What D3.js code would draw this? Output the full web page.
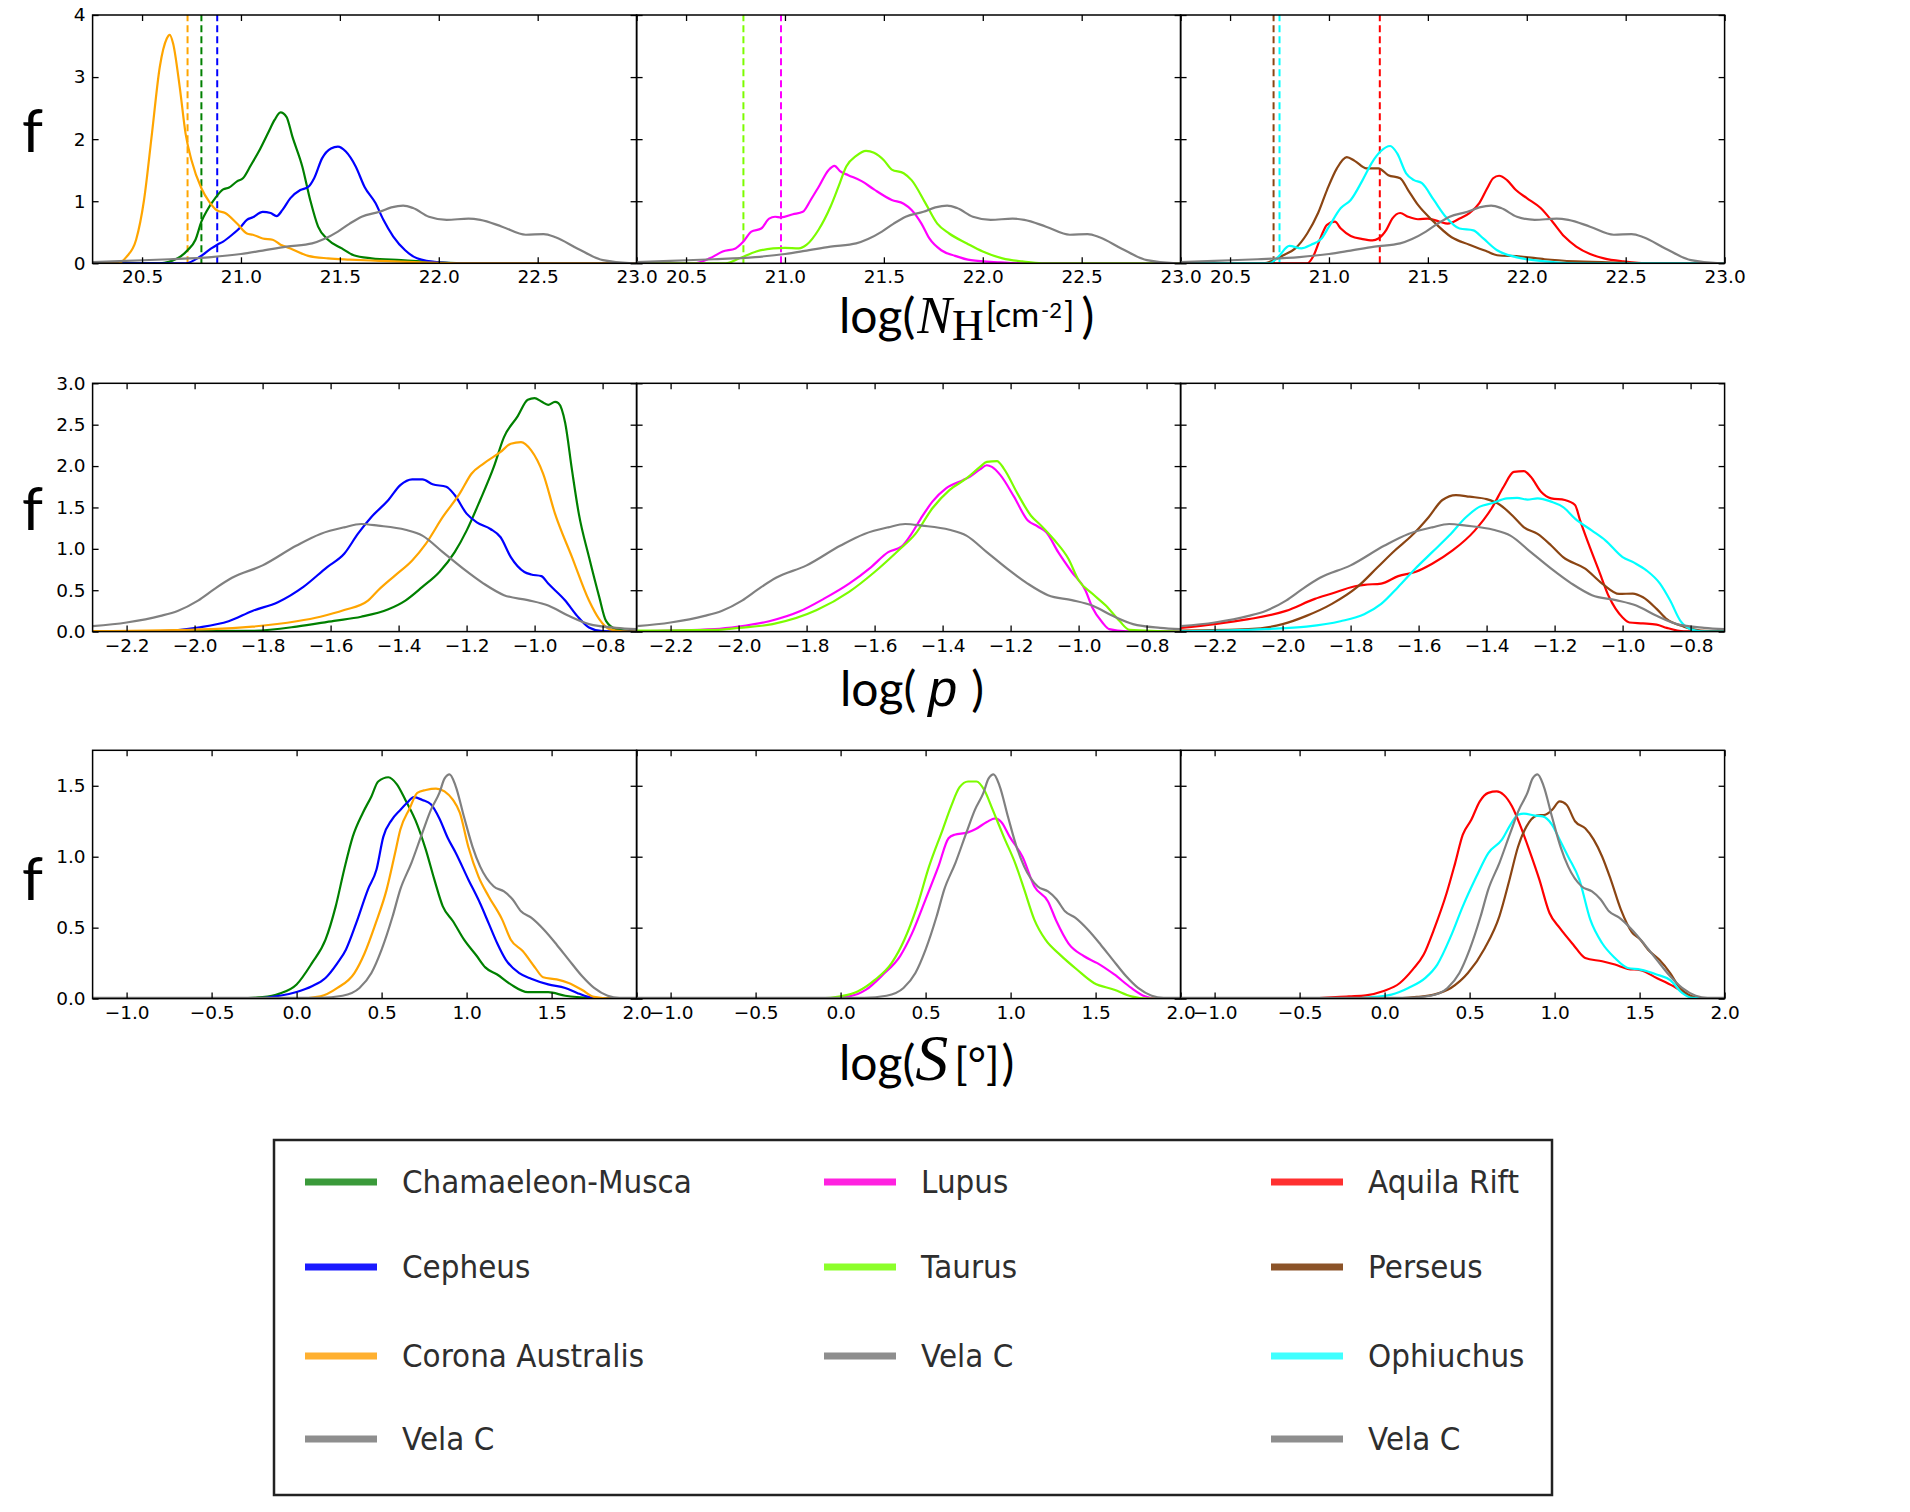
<!DOCTYPE html>
<html>
<head>
<meta charset="utf-8">
<script src="https://cdn.jsdelivr.net/npm/d3@7"></script>
<style>
  body { margin: 0; background: white; }
</style>
</head>
<body>
<div id="vis"></div>
<script>
const FRAME_WIDTH = 1910;
const FRAME_HEIGHT = 1512;

// panel grid: 3 rows x 3 columns sharing edges
const PANEL_W = 544;
const PANEL_H = 248.3;
const COL_X = [92.6, 636.6, 1180.6];
const ROW_Y = [15, 383.3, 750.3];

// ---- axis ticks ----
const nhTicks = [20.5, 21.0, 21.5, 22.0, 22.5, 23.0];
const pTicks = [-2.2, -2.0, -1.8, -1.6, -1.4, -1.2, -1.0, -0.8];
const sTicks = [-1.0, -0.5, 0.0, 0.5, 1.0, 1.5, 2.0];
const fTicksNH = [0, 1, 2, 3, 4];
const fTicksP = [0, 0.5, 1.0, 1.5, 2.0, 2.5, 3.0];
const fTicksS = [0, 0.5, 1.0, 1.5];

// ---- log(N_H) distributions [logNH, f] ----
const chamNH = [[20.25,0],[20.59,0],[20.68,0.08],[20.73,0.21],[20.77,0.38],[20.80,0.67],[20.83,0.86],[20.87,1.05],[20.91,1.19],[20.94,1.22],[20.98,1.32],[21.01,1.37],[21.05,1.58],[21.09,1.80],[21.14,2.12],[21.17,2.31],[21.20,2.43],[21.23,2.36],[21.26,2.04],[21.31,1.56],[21.35,1.02],[21.39,0.59],[21.44,0.38],[21.51,0.24],[21.57,0.13],[21.66,0.08],[21.81,0.05],[21.91,0.03],[22.12,0],[23.0,0]];
const cephNH = [[20.25,0],[20.72,0],[20.795,0.11],[20.85,0.24],[20.88,0.30],[20.91,0.35],[20.955,0.46],[21.0,0.59],[21.03,0.70],[21.06,0.74],[21.11,0.83],[21.15,0.81],[21.18,0.76],[21.21,0.86],[21.25,1.05],[21.30,1.18],[21.34,1.23],[21.37,1.37],[21.41,1.69],[21.455,1.85],[21.49,1.88],[21.53,1.80],[21.58,1.56],[21.625,1.23],[21.68,0.97],[21.72,0.70],[21.77,0.43],[21.83,0.21],[21.89,0.08],[22.0,0.015],[22.12,0],[23.0,0]];
const craNH = [[20.25,0],[20.38,0],[20.42,0.10],[20.47,0.38],[20.51,1.02],[20.55,2.09],[20.59,3.17],[20.625,3.62],[20.64,3.68],[20.657,3.54],[20.69,2.85],[20.72,2.09],[20.75,1.66],[20.80,1.21],[20.84,0.99],[20.88,0.85],[20.92,0.81],[20.98,0.64],[21.03,0.48],[21.06,0.46],[21.11,0.40],[21.16,0.38],[21.20,0.30],[21.25,0.24],[21.34,0.12],[21.44,0.08],[21.55,0.06],[21.70,0.04],[21.91,0.015],[22.12,0],[23.0,0]];
const velaNH = [[20.25,0.02],[20.42,0.04],[20.64,0.065],[20.85,0.10],[21.0,0.15],[21.1,0.20],[21.23,0.27],[21.36,0.32],[21.42,0.39],[21.49,0.51],[21.55,0.64],[21.61,0.75],[21.70,0.83],[21.76,0.90],[21.82,0.93],[21.87,0.89],[21.95,0.75],[22.04,0.70],[22.15,0.72],[22.21,0.70],[22.32,0.59],[22.44,0.46],[22.53,0.47],[22.59,0.42],[22.70,0.24],[22.83,0.05],[22.98,0],[23.0,0]];
const lupusNH = [[20.25,0],[20.54,0],[20.62,0.08],[20.685,0.19],[20.75,0.24],[20.79,0.35],[20.83,0.51],[20.88,0.56],[20.92,0.72],[20.95,0.75],[20.98,0.74],[21.04,0.79],[21.09,0.83],[21.13,1.02],[21.17,1.23],[21.22,1.50],[21.25,1.57],[21.28,1.48],[21.32,1.42],[21.39,1.32],[21.45,1.19],[21.54,1.02],[21.60,0.96],[21.64,0.86],[21.69,0.64],[21.73,0.40],[21.79,0.21],[21.86,0.12],[21.94,0.05],[22.09,0.015],[22.2,0],[23.0,0]];
const taurusNH = [[20.25,0],[20.70,0],[20.77,0.08],[20.855,0.19],[20.94,0.24],[21.0,0.25],[21.07,0.24],[21.11,0.30],[21.17,0.54],[21.23,0.91],[21.27,1.23],[21.31,1.56],[21.36,1.73],[21.41,1.81],[21.45,1.78],[21.50,1.66],[21.54,1.51],[21.60,1.45],[21.64,1.34],[21.71,0.97],[21.77,0.64],[21.83,0.48],[21.92,0.32],[22.0,0.19],[22.1,0.08],[22.2,0.03],[22.3,0],[23.0,0]];
const aquilaNH = [[20.25,0],[20.89,0],[20.92,0.11],[20.96,0.43],[20.99,0.62],[21.03,0.67],[21.06,0.56],[21.11,0.44],[21.17,0.39],[21.22,0.37],[21.25,0.40],[21.29,0.54],[21.32,0.72],[21.36,0.81],[21.40,0.75],[21.45,0.71],[21.50,0.72],[21.56,0.67],[21.60,0.64],[21.66,0.72],[21.71,0.81],[21.76,0.97],[21.80,1.21],[21.83,1.37],[21.86,1.41],[21.90,1.34],[21.945,1.18],[22.0,1.05],[22.07,0.89],[22.13,0.67],[22.19,0.43],[22.25,0.27],[22.32,0.15],[22.39,0.08],[22.49,0.03],[22.6,0],[23.0,0]];
const perseusNH = [[20.25,0],[20.67,0],[20.72,0.05],[20.77,0.13],[20.83,0.24],[20.89,0.48],[20.945,0.81],[20.99,1.18],[21.04,1.53],[21.09,1.71],[21.13,1.65],[21.19,1.53],[21.25,1.53],[21.30,1.42],[21.36,1.37],[21.40,1.18],[21.45,0.94],[21.52,0.70],[21.62,0.42],[21.71,0.30],[21.80,0.19],[21.85,0.13],[21.97,0.11],[22.09,0.065],[22.25,0.03],[22.49,0.01],[22.72,0],[23.0,0]];
const ophNH = [[20.25,0],[20.70,0],[20.745,0.11],[20.80,0.28],[20.86,0.24],[20.91,0.30],[20.96,0.39],[21.0,0.59],[21.06,0.89],[21.11,1.02],[21.17,1.34],[21.215,1.61],[21.26,1.80],[21.31,1.89],[21.345,1.77],[21.39,1.45],[21.43,1.34],[21.47,1.29],[21.53,1.02],[21.59,0.75],[21.66,0.56],[21.73,0.53],[21.78,0.40],[21.85,0.21],[21.945,0.10],[22.09,0.03],[22.25,0],[23.0,0]];

// dashed vertical markers in the log(N_H) panels
const chamCut = 20.80, cephCut = 20.88, craCut = 20.73;
const lupusCut = 20.98, taurusCut = 20.79;
const aquilaCut = 21.257, perseusCut = 20.72, ophCut = 20.75;

// ---- log(p) distributions ----
const chamP = [[-2.3,0],[-1.83,0.01],[-1.70,0.06],[-1.59,0.13],[-1.51,0.18],[-1.43,0.27],[-1.38,0.375],[-1.33,0.54],[-1.28,0.72],[-1.235,0.96],[-1.20,1.22],[-1.16,1.59],[-1.12,1.99],[-1.09,2.35],[-1.05,2.60],[-1.02,2.80],[-1.0,2.82],[-0.98,2.78],[-0.96,2.74],[-0.94,2.775],[-0.93,2.76],[-0.91,2.52],[-0.89,1.95],[-0.87,1.425],[-0.84,0.90],[-0.81,0.42],[-0.79,0.13],[-0.76,0.03],[-0.7,0]];
const cephP = [[-2.3,0],[-2.08,0.01],[-1.99,0.05],[-1.90,0.125],[-1.83,0.25],[-1.755,0.355],[-1.68,0.54],[-1.61,0.78],[-1.56,0.94],[-1.52,1.18],[-1.48,1.385],[-1.43,1.59],[-1.395,1.77],[-1.36,1.84],[-1.33,1.84],[-1.30,1.78],[-1.26,1.75],[-1.235,1.65],[-1.20,1.425],[-1.17,1.32],[-1.13,1.24],[-1.10,1.14],[-1.07,0.90],[-1.03,0.72],[-1.01,0.69],[-0.98,0.67],[-0.96,0.58],[-0.91,0.375],[-0.875,0.19],[-0.84,0.05],[-0.80,0.005],[-0.7,0]];
const craP = [[-2.3,0.005],[-1.95,0.03],[-1.83,0.06],[-1.70,0.125],[-1.63,0.18],[-1.56,0.26],[-1.49,0.375],[-1.46,0.50],[-1.41,0.68],[-1.36,0.86],[-1.32,1.06],[-1.27,1.385],[-1.22,1.67],[-1.185,1.91],[-1.15,2.03],[-1.10,2.17],[-1.07,2.27],[-1.04,2.29],[-1.01,2.19],[-0.975,1.91],[-0.94,1.425],[-0.89,0.90],[-0.84,0.375],[-0.81,0.15],[-0.78,0.03],[-0.74,0.004],[-0.7,0]];
const velaP = [[-2.3,0.065],[-2.2,0.11],[-2.1,0.19],[-2.05,0.25],[-1.99,0.375],[-1.94,0.52],[-1.89,0.65],[-1.80,0.80],[-1.70,1.04],[-1.63,1.18],[-1.56,1.26],[-1.51,1.30],[-1.46,1.28],[-1.38,1.23],[-1.33,1.16],[-1.27,0.96],[-1.21,0.76],[-1.15,0.58],[-1.09,0.44],[-1.02,0.38],[-0.96,0.315],[-0.90,0.19],[-0.84,0.09],[-0.76,0.045],[-0.7,0.03]];
const lupusP = [[-2.3,0.004],[-2.07,0.03],[-2.0,0.06],[-1.91,0.125],[-1.82,0.245],[-1.75,0.395],[-1.675,0.58],[-1.61,0.78],[-1.56,0.96],[-1.52,1.03],[-1.495,1.16],[-1.465,1.36],[-1.43,1.57],[-1.39,1.73],[-1.34,1.83],[-1.32,1.87],[-1.29,1.96],[-1.27,2.01],[-1.255,1.99],[-1.23,1.89],[-1.19,1.63],[-1.15,1.345],[-1.12,1.27],[-1.095,1.20],[-1.06,0.96],[-1.02,0.72],[-0.98,0.50],[-0.96,0.295],[-0.93,0.11],[-0.91,0.03],[-0.86,0.004],[-0.7,0]];
const taurusP = [[-2.3,0.012],[-2.07,0.02],[-2.0,0.045],[-1.9,0.09],[-1.77,0.26],[-1.675,0.48],[-1.60,0.72],[-1.53,0.98],[-1.48,1.18],[-1.43,1.49],[-1.38,1.71],[-1.33,1.85],[-1.29,1.99],[-1.27,2.05],[-1.24,2.06],[-1.22,1.97],[-1.18,1.67],[-1.14,1.40],[-1.11,1.28],[-1.07,1.10],[-1.03,0.88],[-1.0,0.62],[-0.96,0.46],[-0.92,0.315],[-0.88,0.13],[-0.85,0.02],[-0.7,0]];
const aquilaP = [[-2.3,0.045],[-2.2,0.09],[-2.1,0.15],[-1.99,0.25],[-1.905,0.395],[-1.855,0.46],[-1.79,0.545],[-1.76,0.565],[-1.71,0.58],[-1.66,0.67],[-1.61,0.72],[-1.56,0.82],[-1.50,0.98],[-1.435,1.22],[-1.385,1.49],[-1.35,1.75],[-1.32,1.93],[-1.29,1.94],[-1.27,1.87],[-1.24,1.69],[-1.21,1.61],[-1.17,1.59],[-1.14,1.53],[-1.125,1.345],[-1.10,1.06],[-1.07,0.74],[-1.04,0.42],[-1.0,0.17],[-0.98,0.11],[-0.94,0.10],[-0.90,0.085],[-0.87,0.045],[-0.82,0.004],[-0.7,0]];
const perseusP = [[-2.3,0.012],[-2.1,0.03],[-2.0,0.09],[-1.93,0.19],[-1.855,0.335],[-1.78,0.54],[-1.72,0.78],[-1.67,0.98],[-1.62,1.16],[-1.57,1.385],[-1.53,1.59],[-1.49,1.65],[-1.45,1.63],[-1.40,1.60],[-1.36,1.53],[-1.32,1.385],[-1.29,1.26],[-1.25,1.18],[-1.21,1.04],[-1.175,0.90],[-1.11,0.76],[-1.06,0.58],[-1.01,0.455],[-0.97,0.46],[-0.94,0.415],[-0.90,0.275],[-0.87,0.15],[-0.82,0.06],[-0.77,0.012],[-0.7,0.005]];
const ophP = [[-2.3,0.004],[-2.05,0.03],[-1.93,0.06],[-1.83,0.125],[-1.76,0.21],[-1.71,0.335],[-1.66,0.54],[-1.61,0.76],[-1.56,0.96],[-1.51,1.16],[-1.46,1.385],[-1.42,1.51],[-1.385,1.55],[-1.34,1.61],[-1.31,1.615],[-1.28,1.595],[-1.25,1.61],[-1.21,1.57],[-1.175,1.505],[-1.14,1.365],[-1.09,1.22],[-1.05,1.10],[-1.0,0.90],[-0.965,0.83],[-0.93,0.74],[-0.89,0.58],[-0.86,0.375],[-0.83,0.13],[-0.80,0.03],[-0.77,0.004],[-0.7,0]];

// ---- log(S) distributions ----
const chamS = [[-1.2,0],[-0.38,0],[-0.2,0.01],[-0.10,0.035],[0.0,0.10],[0.09,0.25],[0.17,0.415],[0.23,0.65],[0.28,0.91],[0.33,1.14],[0.39,1.31],[0.44,1.425],[0.48,1.53],[0.54,1.56],[0.59,1.51],[0.64,1.40],[0.71,1.225],[0.76,1.05],[0.81,0.84],[0.86,0.65],[0.92,0.545],[0.985,0.415],[1.06,0.30],[1.11,0.22],[1.18,0.17],[1.26,0.10],[1.36,0.045],[1.48,0.045],[1.58,0.02],[1.73,0.005],[2.0,0]];
const cephS = [[-1.2,0],[-0.25,0.002],[-0.10,0.02],[0.0,0.047],[0.09,0.087],[0.17,0.145],[0.24,0.25],[0.29,0.345],[0.35,0.53],[0.42,0.77],[0.47,0.91],[0.51,1.14],[0.56,1.26],[0.61,1.33],[0.65,1.38],[0.69,1.42],[0.74,1.40],[0.79,1.37],[0.84,1.27],[0.89,1.13],[0.935,1.03],[1.01,0.84],[1.08,0.67],[1.13,0.53],[1.18,0.39],[1.23,0.275],[1.31,0.18],[1.38,0.14],[1.48,0.10],[1.58,0.075],[1.65,0.04],[1.715,0.012],[1.78,0],[2.0,0]];
const craS = [[-1.2,0],[0.0,0],[0.14,0.016],[0.24,0.075],[0.34,0.18],[0.40,0.32],[0.465,0.53],[0.53,0.77],[0.58,1.03],[0.61,1.19],[0.665,1.34],[0.71,1.45],[0.76,1.47],[0.82,1.48],[0.87,1.46],[0.92,1.40],[0.96,1.31],[1.01,1.07],[1.07,0.86],[1.13,0.72],[1.21,0.555],[1.26,0.415],[1.33,0.335],[1.405,0.215],[1.45,0.15],[1.53,0.135],[1.60,0.11],[1.68,0.06],[1.75,0.012],[1.85,0],[2.0,0]];
const velaS = [[-1.2,0.005],[0.14,0.005],[0.27,0.02],[0.37,0.075],[0.44,0.18],[0.50,0.345],[0.565,0.58],[0.61,0.77],[0.675,0.955],[0.74,1.17],[0.79,1.33],[0.84,1.45],[0.87,1.55],[0.90,1.58],[0.935,1.50],[0.985,1.28],[1.035,1.07],[1.08,0.93],[1.16,0.79],[1.22,0.755],[1.27,0.70],[1.32,0.615],[1.38,0.57],[1.455,0.485],[1.53,0.38],[1.60,0.275],[1.68,0.157],[1.75,0.075],[1.83,0.02],[1.90,0.005],[2.0,0.005]];
const lupusS = [[-1.2,0],[-0.12,0],[0.05,0.016],[0.15,0.063],[0.25,0.17],[0.35,0.30],[0.42,0.46],[0.50,0.70],[0.575,0.93],[0.635,1.13],[0.67,1.155],[0.745,1.17],[0.795,1.195],[0.86,1.245],[0.91,1.27],[0.945,1.245],[0.995,1.14],[1.07,1.0],[1.14,0.79],[1.22,0.685],[1.27,0.545],[1.34,0.39],[1.43,0.30],[1.51,0.25],[1.61,0.17],[1.71,0.075],[1.79,0.016],[1.86,0],[2.0,0]];
const taurusS = [[-1.2,0],[-0.12,0.002],[0.0,0.016],[0.10,0.05],[0.20,0.13],[0.30,0.25],[0.375,0.415],[0.45,0.65],[0.52,0.93],[0.60,1.19],[0.65,1.355],[0.70,1.49],[0.75,1.53],[0.80,1.53],[0.845,1.47],[0.895,1.33],[0.96,1.14],[1.03,0.945],[1.08,0.77],[1.14,0.555],[1.205,0.415],[1.29,0.31],[1.39,0.205],[1.49,0.11],[1.61,0.063],[1.71,0.016],[1.81,0],[2.0,0]];
const aquilaS = [[-1.2,0],[-0.455,0],[-0.21,0.016],[-0.11,0.023],[-0.01,0.052],[0.09,0.11],[0.165,0.204],[0.23,0.31],[0.29,0.486],[0.365,0.744],[0.415,0.955],[0.46,1.155],[0.51,1.26],[0.56,1.39],[0.61,1.45],[0.66,1.46],[0.70,1.437],[0.75,1.354],[0.80,1.214],[0.85,1.05],[0.91,0.84],[0.97,0.603],[1.03,0.498],[1.11,0.38],[1.18,0.286],[1.28,0.263],[1.355,0.24],[1.43,0.21],[1.505,0.2],[1.60,0.146],[1.70,0.087],[1.78,0.028],[1.85,0],[2.0,0]];
const perseusS = [[-1.2,0],[0.04,0],[0.19,0.012],[0.29,0.028],[0.39,0.075],[0.49,0.18],[0.59,0.357],[0.675,0.58],[0.735,0.84],[0.785,1.07],[0.835,1.214],[0.895,1.29],[0.945,1.296],[0.985,1.33],[1.03,1.39],[1.07,1.366],[1.12,1.25],[1.18,1.2],[1.23,1.12],[1.28,1.0],[1.33,0.84],[1.39,0.627],[1.455,0.467],[1.505,0.415],[1.55,0.345],[1.615,0.275],[1.68,0.18],[1.73,0.087],[1.80,0.02],[1.875,0],[2.0,0]];
const ophS = [[-1.2,0],[-0.21,0],[-0.06,0.012],[0.04,0.028],[0.14,0.075],[0.24,0.146],[0.31,0.24],[0.39,0.44],[0.46,0.65],[0.54,0.86],[0.61,1.026],[0.69,1.12],[0.74,1.225],[0.785,1.296],[0.82,1.303],[0.885,1.29],[0.93,1.284],[0.985,1.225],[1.03,1.12],[1.08,1.0],[1.145,0.84],[1.21,0.556],[1.28,0.39],[1.355,0.286],[1.43,0.216],[1.505,0.204],[1.60,0.17],[1.68,0.13],[1.75,0.04],[1.81,0.005],[2.0,0]];

// ---- colours ----
const COLORS = {
  cham: "#008000", ceph: "#0000ff", cra: "#ffa500", vela: "#808080",
  lupus: "#ff00ff", taurus: "#7cfc00",
  aquila: "#ff0000", perseus: "#8b4513", oph: "#00ffff"
};
// legend swatches come out a little lighter in the original
const LEGEND_COLORS = {
  cham: "#3a9a3a", ceph: "#1a1aff", cra: "#ffb030", vela: "#8e8e8e",
  lupus: "#ff22e0", taurus: "#8cff2a",
  aquila: "#ff3030", perseus: "#8b5328", oph: "#40ffff"
};

const legendCol1 = [["cham", "Chamaeleon-Musca"], ["ceph", "Cepheus"], ["cra", "Corona Australis"], ["vela", "Vela C"]];
const legendCol2 = [["lupus", "Lupus"], ["taurus", "Taurus"], ["vela", "Vela C"]];
const legendCol3 = [["aquila", "Aquila Rift"], ["perseus", "Perseus"], ["oph", "Ophiuchus"], ["vela", "Vela C"]];

// ---- rows ----
const ROWS = [
  {
    xDomain: [20.25, 23.0], xTicks: nhTicks, yDomain: [0, 4], yTicks: fTicksNH, yFmt: d3.format("d"),
    panels: [
      {series: [["cham", chamNH], ["ceph", cephNH], ["cra", craNH], ["vela", velaNH]],
       cuts: [["cra", craCut], ["cham", chamCut], ["ceph", cephCut]]},
      {series: [["lupus", lupusNH], ["taurus", taurusNH], ["vela", velaNH]],
       cuts: [["taurus", taurusCut], ["lupus", lupusCut]]},
      {series: [["aquila", aquilaNH], ["perseus", perseusNH], ["oph", ophNH], ["vela", velaNH]],
       cuts: [["perseus", perseusCut], ["oph", ophCut], ["aquila", aquilaCut]]}
    ]
  },
  {
    xDomain: [-2.3, -0.7], xTicks: pTicks, yDomain: [0, 3], yTicks: fTicksP, yFmt: d3.format(".1f"),
    panels: [
      {series: [["cham", chamP], ["ceph", cephP], ["cra", craP], ["vela", velaP]], cuts: []},
      {series: [["lupus", lupusP], ["taurus", taurusP], ["vela", velaP]], cuts: []},
      {series: [["aquila", aquilaP], ["perseus", perseusP], ["oph", ophP], ["vela", velaP]], cuts: []}
    ]
  },
  {
    xDomain: [-1.2, 2.0], xTicks: sTicks, yDomain: [0, 1.75], yTicks: fTicksS, yFmt: d3.format(".1f"),
    panels: [
      {series: [["cham", chamS], ["ceph", cephS], ["cra", craS], ["vela", velaS]], cuts: []},
      {series: [["lupus", lupusS], ["taurus", taurusS], ["vela", velaS]], cuts: []},
      {series: [["aquila", aquilaS], ["perseus", perseusS], ["oph", ophS], ["vela", velaS]], cuts: []}
    ]
  }
];

const FRAME = d3.select("#vis")
  .append("svg")
    .attr("width", FRAME_WIDTH)
    .attr("height", FRAME_HEIGHT);

FRAME.append("rect")
  .attr("width", FRAME_WIDTH)
  .attr("height", FRAME_HEIGHT)
  .attr("fill", "white");

const TICK_FONT = "'DejaVu Sans', sans-serif";

function styleAxis(g) {
  g.select(".domain").remove();
  g.selectAll(".tick line").attr("stroke", "black").attr("stroke-width", 1.3);
  g.selectAll(".tick text")
    .attr("fill", "black")
    .style("font-family", TICK_FONT)
    .style("font-size", "18.5px");
}

// axes that only carry tick marks, no labels
function ticksOnly(g) {
  styleAxis(g);
  g.selectAll(".tick text").remove();
}

ROWS.forEach((row, ri) => {
  const X_SCALE = d3.scaleLinear().domain(row.xDomain).range([0, PANEL_W]);
  const Y_SCALE = d3.scaleLinear().domain(row.yDomain).range([PANEL_H, 0]);
  const line = d3.line()
    .x(d => X_SCALE(d[0]))
    .y(d => Y_SCALE(d[1]))
    .curve(d3.curveMonotoneX);

  row.panels.forEach((panel, ci) => {
    const g = FRAME.append("g")
      .attr("transform", "translate(" + COL_X[ci] + "," + ROW_Y[ri] + ")");

    const clipId = "clip" + ri + ci;
    g.append("clipPath").attr("id", clipId)
      .append("rect").attr("width", PANEL_W).attr("height", PANEL_H);

    const plot = g.append("g").attr("clip-path", "url(#" + clipId + ")");

    // dashed markers
    plot.selectAll("line.cut")
      .data(panel.cuts)
      .enter()
      .append("line")
        .attr("class", "cut")
        .attr("x1", d => X_SCALE(d[1]))
        .attr("x2", d => X_SCALE(d[1]))
        .attr("y1", Y_SCALE(row.yDomain[0]))
        .attr("y2", Y_SCALE(row.yDomain[1]))
        .attr("stroke", d => COLORS[d[0]])
        .attr("stroke-width", 2)
        .attr("stroke-dasharray", "7,4");

    // distribution curves
    plot.selectAll("path.curve")
      .data(panel.series)
      .enter()
      .append("path")
        .attr("class", "curve")
        .attr("d", d => line(d[1]))
        .attr("fill", "none")
        .attr("stroke", d => COLORS[d[0]])
        .attr("stroke-width", 2.2)
        .attr("stroke-linejoin", "round");

    // ticks point inward on all four sides
    g.append("g")
      .attr("transform", "translate(0," + PANEL_H + ")")
      .call(d3.axisBottom(X_SCALE).tickValues(row.xTicks).tickFormat(d3.format(".1f"))
              .tickSizeInner(-6).tickSizeOuter(0).tickPadding(7))
      .call(styleAxis);

    g.append("g")
      .call(d3.axisTop(X_SCALE).tickValues(row.xTicks)
              .tickSizeInner(-6).tickSizeOuter(0))
      .call(ticksOnly);

    g.append("g")
      .call(d3.axisLeft(Y_SCALE).tickValues(row.yTicks).tickFormat(row.yFmt)
              .tickSizeInner(-6).tickSizeOuter(0).tickPadding(7))
      .call(ci === 0 ? styleAxis : ticksOnly);

    g.append("g")
      .attr("transform", "translate(" + PANEL_W + ",0)")
      .call(d3.axisRight(Y_SCALE).tickValues(row.yTicks)
              .tickSizeInner(-6).tickSizeOuter(0))
      .call(ticksOnly);

    // frame
    g.append("rect")
      .attr("width", PANEL_W)
      .attr("height", PANEL_H)
      .attr("fill", "none")
      .attr("stroke", "black")
      .attr("stroke-width", 1.5);
  });
});

// big "f" labels on the left
[152, 530, 900].forEach(yb => {
  FRAME.append("text")
    .attr("x", 22)
    .attr("y", yb)
    .style("font-family", "Lato, 'Open Sans', sans-serif")
    .style("font-size", "60px")
    .text("f");
});

// x axis titles
const SANS = "'Liberation Sans Narrow', Lato, sans-serif";
const SERIF = "'Liberation Serif', 'DejaVu Serif', serif";

const t1 = FRAME.append("text").attr("x", 839).attr("y", 333)
  .style("font-family", SANS).style("font-size", "48px");
t1.append("tspan").text("log(");
t1.append("tspan").attr("dx", 2).style("font-family", SERIF).style("font-style", "italic").style("font-size", "52px").text("N");
t1.append("tspan").attr("dy", 7).style("font-family", SERIF).style("font-size", "44px").text("H");
t1.append("tspan").attr("dx", 2).attr("dy", -13).style("font-size", "34px").text("[cm");
t1.append("tspan").attr("dx", 2).attr("dy", -9).style("font-size", "22px").text("-2");
t1.append("tspan").attr("dx", 2).attr("dy", 9).style("font-size", "34px").text("]");
t1.append("tspan").attr("dx", 7).attr("dy", 6).text(")");

const t2 = FRAME.append("text").attr("x", 840).attr("y", 706)
  .style("font-family", SANS).style("font-size", "48px");
t2.append("tspan").text("log(");
t2.append("tspan").attr("dx", 12).style("font-family", "'Liberation Sans', sans-serif").style("font-style", "italic").style("font-size", "52px").text("p");
t2.append("tspan").attr("dx", 14).text(")");

const t3 = FRAME.append("text").attr("x", 839).attr("y", 1080)
  .style("font-family", SANS).style("font-size", "48px");
t3.append("tspan").text("log(");
t3.append("tspan").style("font-family", SERIF).style("font-style", "italic").style("font-size", "66px").text("S");
t3.append("tspan").attr("dx", 6).style("font-size", "44px").text("[°]");
t3.append("tspan").attr("dx", 2).text(")");

// legend
const LEGEND = {x: 274, y: 1140, w: 1278, h: 355};
FRAME.append("rect")
  .attr("x", LEGEND.x)
  .attr("y", LEGEND.y)
  .attr("width", LEGEND.w)
  .attr("height", LEGEND.h)
  .attr("fill", "white")
  .attr("stroke", "#222")
  .attr("stroke-width", 2.5);

const legendColX = [305, 824, 1271];
const legendRowY = [1182, 1267, 1356, 1439];

[legendCol1, legendCol2, legendCol3].forEach((col, ci) => {
  const entries = FRAME.selectAll("g.leg" + ci)
    .data(col)
    .enter()
    .append("g")
      .attr("class", "leg" + ci)
      .attr("transform", (d, i) => "translate(" + legendColX[ci] + "," + legendRowY[i] + ")");

  entries.append("line")
    .attr("x1", 0).attr("x2", 72)
    .attr("stroke", d => LEGEND_COLORS[d[0]])
    .attr("stroke-width", 7);

  entries.append("text")
    .attr("transform", "translate(97,11) scale(1,1.1)")
    .attr("fill", "#2e2e2e")
    .style("font-family", TICK_FONT)
    .style("font-size", "29.5px")
    .text(d => d[1]);
});
</script>
</body>
</html>
